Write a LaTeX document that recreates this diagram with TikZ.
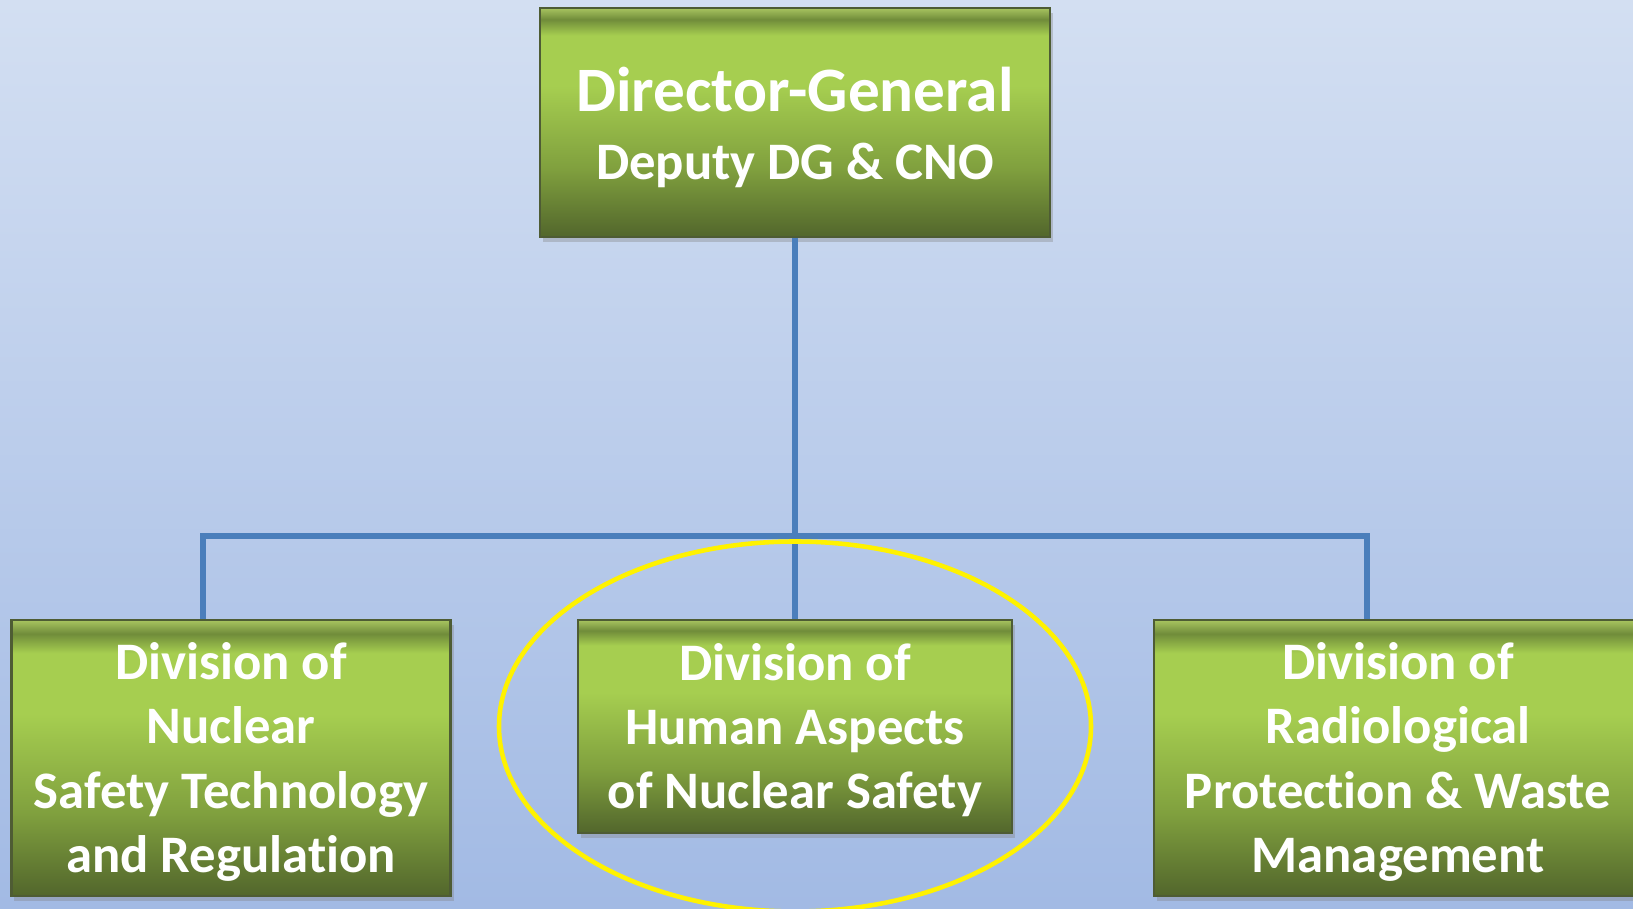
\documentclass[tikz,border=0pt]{standalone}
\usepackage{fontspec}
\setmainfont{Carlito}[Ligatures=CommonOff]
\usetikzlibrary{shadows}

\definecolor{bgtop}{RGB}{211,223,242}
\definecolor{bgbottom}{RGB}{162,186,228}
\definecolor{boxtop}{RGB}{168,196,96}
\definecolor{boxband}{RGB}{112,140,58}
\definecolor{boxlight}{RGB}{166,206,80}
\definecolor{boxmid}{RGB}{128,160,62}
\definecolor{boxdark}{RGB}{82,102,44}
\definecolor{boxedge}{RGB}{78,92,52}
\definecolor{linkblue}{RGB}{74,126,187}

\pgfdeclareverticalshading{boxfade}{100bp}{%
    color(0bp)=(boxdark); color(25bp)=(boxdark); color(40bp)=(boxmid);
    color(58bp)=(boxlight); color(69bp)=(boxlight); color(72.5bp)=(boxband);
    color(75bp)=(boxtop); color(100bp)=(boxtop)}

% first lines a bit taller, so the text sits lower in the boxes
\newcommand\liftline[1]{\rule{0pt}{#1}}

\tikzset{
    org unit/.style={
        draw=boxedge,line width=.6pt,
        shade,shading=boxfade,
        drop shadow={shadow xshift=.03cm,shadow yshift=-.05cm,opacity=.35},
        text=white,align=center,inner sep=0pt,
        font=\bfseries\fontsize{15}{18.3}\selectfont
    },
    org line/.style={draw=linkblue,line width=1.6pt}
}

\begin{document}
\begin{tikzpicture}
        \shade[top color=bgtop,bottom color=bgbottom] (0,0) rectangle (16.33,9.09);
        \useasboundingbox (0,0) rectangle (16.33,9.09);
        \node[org unit,minimum width=5.10cm,minimum height=2.29cm,
            font=\bfseries\fontsize{15}{19.4}\selectfont] (dg) at (7.95,7.865)
            {{\fontsize{18}{19.4}\selectfont\liftline{15.4pt}Director-General}\\Deputy DG \& CNO};
        \node[org unit,minimum width=4.39cm,minimum height=2.76cm] (nst) at (2.31,1.51)
            {\liftline{12.7pt}Division of\\Nuclear\\Safety Technology\\and Regulation};
        \node[org unit,minimum width=4.34cm,minimum height=2.13cm] (has) at (7.95,1.825)
            {\liftline{12.7pt}Division of\\Human Aspects\\of Nuclear Safety};
        \node[org unit,minimum width=4.88cm,minimum height=2.76cm] (rpw) at (13.98,1.51)
            {\liftline{12.7pt}Division of\\Radiological\\Protection \& Waste\\Management};
        \coordinate (bar) at (7.95,3.73);
        \draw[org line] (dg.south) -- (bar);
        \draw[org line] ([xshift=-.28cm]nst.north) |- (bar) -| ([xshift=-.31cm]rpw.north);
        \draw[org line] (bar) -- (has.north);
        \draw[yellow,line width=1.3pt] (has) ellipse (2.96 and 1.85);
    \end{tikzpicture}
\end{document}
